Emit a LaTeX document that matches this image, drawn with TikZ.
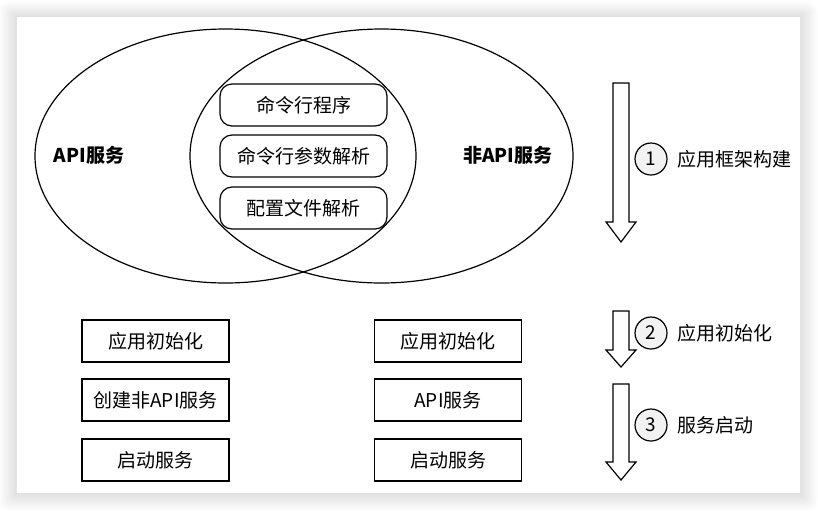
\documentclass[tikz,border=0pt]{standalone}
\usepackage{fontspec}
\setmainfont{Noto Sans CJK SC}
\usetikzlibrary{positioning}
\tikzset{
    caja/.style={draw,line width=1.2pt,minimum width=147pt,minimum height=42pt,inner sep=0pt,font=\fontsize{19}{22}\selectfont},
    cajaredonda/.style={caja,rounded corners=12pt,minimum width=167pt},
    paso/.style={circle,draw,fill=gray!10,line width=1.2pt,minimum size=32pt,inner sep=0pt,font=\fontsize{19}{22}\selectfont},
    texto/.style={inner sep=0pt,font=\fontsize{19}{22}\selectfont},
    flecha/.style={draw,line width=1.2pt,fill=white,line join=miter}
}
\begin{document}
\begin{tikzpicture}[x=1pt,y=-1pt]
\useasboundingbox (0,0) rectangle (818,512);
    %Sombra y tarjeta
    \foreach \i in {1,...,10}{
        \fill[black,opacity=0.011,rounded corners=\i pt] (17-\i*1.8,17-\i*1.5) rectangle (800+\i*1.8,493+\i*1.8);
    }
    \fill[white] (17,17) rectangle (800,493);

    %Elipses
    \draw[line width=1.2pt] (225.5,156) ellipse [x radius=190.5pt,y radius=127pt];
    \draw[line width=1.2pt] (381.5,156) ellipse [x radius=191.5pt,y radius=127pt];
    \node[texto,font=\fontsize{19}{22}\selectfont\bfseries] (api) at (89,155) {API服务};
    \node[texto,font=\fontsize{19}{22}\selectfont\bfseries] (noapi) at (508,155) {非API服务};

    %Comun
    \node[cajaredonda] (comun1) at (303.5,105) {命令行程序};
    \node[cajaredonda] (comun2) at (303.5,156) {命令行参数解析};
    \node[cajaredonda] (comun3) at (303.5,208) {配置文件解析};

    %Cajas de abajo
    \foreach \t/\y [count=\i] in {应用初始化/341,创建非API服务/400,启动服务/460}{
        \node[caja] (izq\i) at (155.5,\y) {\t};
    }
    \foreach \t/\y [count=\i] in {应用初始化/341,API服务/400,启动服务/460}{
        \node[caja] (der\i) at (448,\y) {\t};
    }

    %Flechas
    \foreach \ya/\yb/\yc in {83/222/242,311/350/367,384/462/480}{
        \draw[flecha] (613,\ya) -- (629,\ya) -- (629,\yb) -- (636,\yb) -- (621,\yc) -- (606,\yb) -- (613,\yb) -- cycle;
    }
    \node[paso] (p1) at (651,159) {1};
    \node[paso] (p2) at (651,333) {2};
    \node[paso] (p3) at (651,425) {3};
    \node[texto,right=10pt of p1] (e1) {应用框架构建};
    \node[texto,right=10pt of p2] (e2) {应用初始化};
    \node[texto,right=10pt of p3] (e3) {服务启动};
\end{tikzpicture}
\end{document}
